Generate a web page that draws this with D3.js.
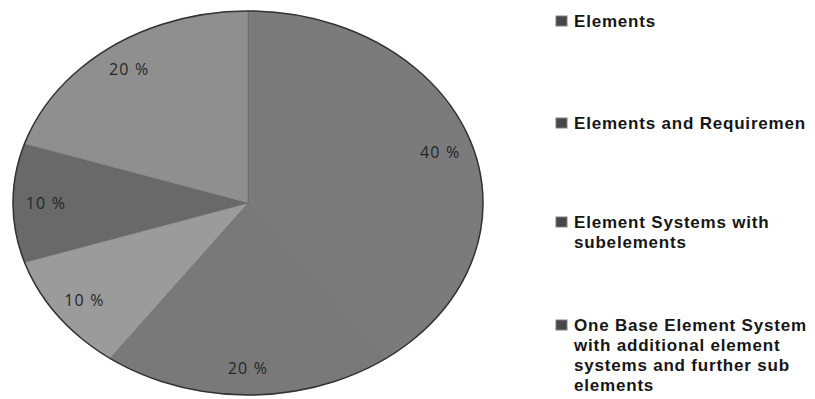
<!DOCTYPE html>
<html>
<head>
<meta charset="utf-8">
<script src="https://cdn.jsdelivr.net/npm/d3@7"></script>
<style>
  html, body { margin: 0; padding: 0; background: #ffffff; }
  svg { display: block; }
</style>
</head>
<body>
<svg id="chart" width="815" height="399"></svg>
<script>
// Share of each structure type (percent), clockwise from 12 o'clock
const sliceValues = [40, 20, 10, 10, 20];
const sliceColors = ["#7b7b7b", "#797979", "#9b9b9b", "#696969", "#8f8f8f"];

// Legend entries (each entry split into its wrapped lines)
const legendLabels = [
  ["Elements"],
  ["Elements and Requiremen"],
  ["Element Systems with", "subelements"],
  ["One Base Element System", "with additional element", "systems and further sub", "elements"]
];
const legendColor = "#474747";

const svg = d3.select("#chart");

// Elliptical pie: circle of radius ry stretched horizontally
const cx = 248, cy = 203;
const rx = 235, ry = 192;
const sx = rx / ry;

const pie = d3.pie().sort(null).value(d => d);
const arcs = pie(sliceValues);

const arc = d3.arc().innerRadius(0).outerRadius(ry);
const labelArc = d3.arc().innerRadius(ry * 0.86).outerRadius(ry * 0.86);

const pieG = svg.append("g")
  .attr("transform", `translate(${cx},${cy}) scale(${sx},1)`);

pieG.selectAll("path.slice")
  .data(arcs)
  .enter().append("path")
  .attr("class", "slice")
  .attr("d", arc)
  .attr("fill", (d, i) => sliceColors[i])
  .attr("stroke", "#4a4a4a")
  .attr("stroke-width", 0.8)
  .attr("stroke-opacity", 0.35)
  .attr("vector-effect", "non-scaling-stroke");

// Outer rim
pieG.append("ellipse")
  .attr("cx", 0).attr("cy", 0)
  .attr("rx", ry).attr("ry", ry)
  .attr("fill", "none")
  .attr("stroke", "#333333")
  .attr("stroke-width", 1.5)
  .attr("vector-effect", "non-scaling-stroke");

// Percentage labels (positioned unscaled so text is not stretched)
const labelG = svg.append("g").attr("transform", `translate(${cx},${cy})`);
labelG.selectAll("text")
  .data(arcs)
  .enter().append("text")
  .attr("x", d => labelArc.centroid(d)[0] * sx)
  .attr("y", d => labelArc.centroid(d)[1])
  .attr("text-anchor", "middle")
  .attr("dominant-baseline", "central")
  .attr("font-family", "'Open Sans', 'DejaVu Sans', sans-serif")
  .attr("font-size", 16)
  .attr("letter-spacing", 1.2)
  .attr("fill", "#262626")
  .text(d => d.data + " %");

// Legend
const legendX = 556;
const legendTops = d3.scaleOrdinal()
  .domain(d3.range(legendLabels.length))
  .range([21, 123, 222, 325]);
const lineH = 20;

const legend = svg.append("g");
legendLabels.forEach((lines, i) => {
  const y0 = legendTops(i);
  const g = legend.append("g");
  g.append("rect")
    .attr("x", legendX)
    .attr("y", y0 - 5)
    .attr("width", 11)
    .attr("height", 10)
    .attr("fill", legendColor)
    .attr("stroke", "#808080")
    .attr("stroke-width", 1);
  g.append("text")
    .attr("font-family", "'Liberation Sans', Arial, sans-serif")
    .attr("font-size", 17)
    .attr("font-weight", "bold")
    .attr("letter-spacing", 0.8)
    .attr("fill", "#161616")
    .selectAll("tspan")
    .data(lines)
    .enter().append("tspan")
    .attr("x", legendX + 18)
    .attr("y", (d, j) => y0 + j * lineH)
    .attr("dominant-baseline", "central")
    .text(d => d);
});
</script>
</body>
</html>
